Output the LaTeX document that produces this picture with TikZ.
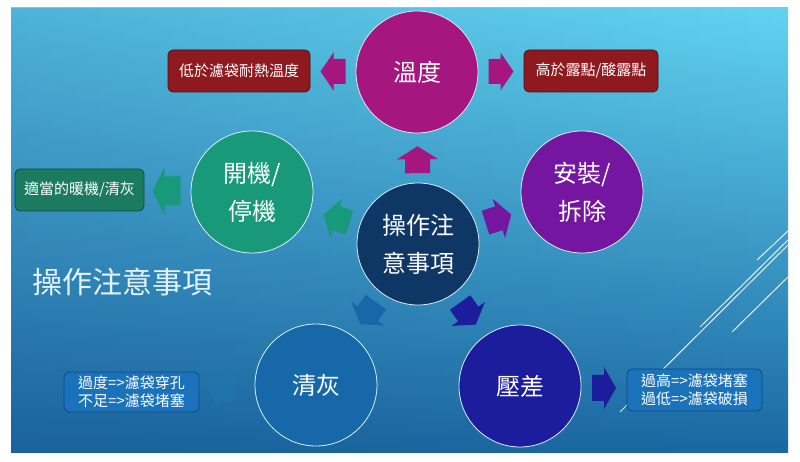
\documentclass[tikz,border=0pt]{standalone}
\usepackage{fontspec}
\setmainfont{Noto Sans CJK TC}
\usetikzlibrary{calc,fadings}
\definecolor{bgtop}{HTML}{62D4F1}
\definecolor{bgmid}{HTML}{30A2D4}
\definecolor{bgbot}{HTML}{1B68A2}
\definecolor{bgdark}{HTML}{174F8C}
\definecolor{cwendu}{HTML}{A5177F}
\definecolor{ckaiji}{HTML}{189A7A}
\definecolor{canz}{HTML}{7516A0}
\definecolor{ccenter}{HTML}{0E3766}
\definecolor{cqing}{HTML}{1668A8}
\definecolor{cyacha}{HTML}{1C1D9C}
\definecolor{circline}{HTML}{D8EEFA}
\definecolor{redbox}{HTML}{8E1A20}
\definecolor{redline}{HTML}{4A1014}
\definecolor{greenbox}{HTML}{1B7A60}
\definecolor{greenline}{HTML}{0F4A3C}
\definecolor{bluebox}{HTML}{1A72BA}
\definecolor{blueline}{HTML}{0E4A82}
\definecolor{titletext}{HTML}{E2F3FB}
\tikzset{
  pics/barrow/.style n args={5}{code={
    \fill[#1] ({-#2/2},{-#5}) -- ({#2/2-#3},{-#5}) -- ({#2/2-#3},{-#4}) -- ({#2/2},0)
      -- ({#2/2-#3},{#4}) -- ({#2/2-#3},{#5}) -- ({-#2/2},{#5}) -- cycle;
  }},
  circ/.style={circle, minimum size=122pt, inner sep=0pt, draw=circline, line width=0.8pt,
    text=white, font=\fontsize{24}{38}\selectfont, align=center},
  infobox/.style={rounded corners=5pt, minimum height=42pt, inner sep=0pt, text=white,
    font=\fontsize{15}{18}\selectfont, align=center, line width=0.8pt},
  deco/.style={draw=white, draw opacity=0.85, line width=1pt},
}
\begin{document}
\begin{tikzpicture}[x=1pt,y=1pt]
\fill[white] (0,0) rectangle (800,462);
\useasboundingbox (0,0) rectangle (800,462);
% slide background
\shade[top color=bgtop, middle color=bgmid, bottom color=bgbot] (11,9) rectangle (788,454);
\fill[bgdark, path fading=east, opacity=0.25] (11,9) rectangle (788,454);

% decorative lines
\draw[deco] (757,202) -- (788,231);
\draw[deco] (700,135) -- (788,222);
\draw[deco] (620,50) -- (788,217);
\draw[deco] (732,130) -- (788,185);

% title
\node (title) at (122,180) [text=titletext, font=\fontsize{30}{34}\selectfont] {操作注意事項};

% circles
\node[circ, fill=ccenter] (center) at (418,218) {操作注\\意事項};
\node[circ, fill=cwendu] (wendu) at (417,390) {溫度};
\node[circ, fill=ckaiji] (kaiji) at (252,270) {開機/\\停機};
\node[circ, fill=canz] (anz) at (582,270) {安裝/\\拆除};
\node[circ, fill=cqing] (qing) at (316,77) {清灰};
\node[circ, fill=cyacha] (yacha) at (520,76) {壓差};

% boxes
\node[infobox, fill=redbox, draw=redline, minimum width=142pt] (lowbox) at (239,391) {低於濾袋耐熱溫度};
\node[infobox, fill=redbox, draw=redline, minimum width=134pt] (highbox) at (591,391) {高於露點/酸露點};
\node[infobox, fill=greenbox, draw=greenline, minimum width=129pt] (warmbox) at (79.5,272) {適當的暖機/清灰};
\node[infobox, fill=bluebox, draw=blueline, minimum width=135pt, minimum height=40pt] (overbox) at (131.5,70) {過度=>濾袋穿孔\\不足=>濾袋堵塞};
\node[infobox, fill=bluebox, draw=blueline, minimum width=135pt] (presbox) at (694.5,72) {過高=>濾袋堵塞\\過低=>濾袋破損};

% inner arrows from center to the satellites
\foreach \tgt/\col in {wendu/cwendu, kaiji/ckaiji, anz/canz, qing/cqing, yacha/cyacha}{
  \path let \p1=($(\tgt)-(center)$), \n1={atan2(\y1,\x1)} in
    ($(center)!0.49!(\tgt)$) pic[rotate=\n1] {barrow={\col}{27}{13}{20.5}{12.5}};
}

% outer arrows to the boxes
\path ($(wendu.west)!0.5!(lowbox.east)$) pic[rotate=180] {barrow={cwendu}{25}{13}{19}{12.5}};
\path ($(wendu.east)!0.5!(highbox.west)$) pic {barrow={cwendu}{25}{13}{19}{12.5}};
\path ($(kaiji.west)!0.52!(warmbox.east)$) pic[rotate=180] {barrow={ckaiji}{28}{12}{24}{14.5}};
\path ($(qing.west)!0.6!(overbox.east)$) pic[rotate=180] {barrow={cqing!70!bgmid, opacity=0.45}{30}{13}{20}{13}};
\path ($(yacha.east)!0.5!(presbox.west)$) pic {barrow={cyacha}{24}{12}{21}{13}};
\end{tikzpicture}
\end{document}
